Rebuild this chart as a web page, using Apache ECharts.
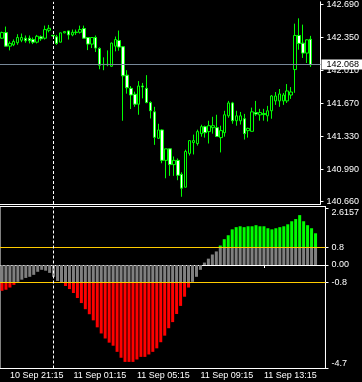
<!DOCTYPE html>
<html><head><meta charset="utf-8">
<style>html,body{margin:0;padding:0;background:#000;overflow:hidden}#c{width:362px;height:382px;}</style>
<script src="https://cdn.jsdelivr.net/npm/echarts@6/dist/echarts.min.js"></script>
</head><body><div id="c"></div>
<script>
// ---- data (M15 bars, 10 Sep 20:45 .. 11 Sep 16:30) ----
const opens = [142.342,142.400,142.260,142.274,142.295,142.321,142.342,142.342,142.328,142.301,
  142.356,142.342,142.424,142.372,142.356,142.301,142.397,142.417,142.376,142.400,
  142.403,142.441,142.349,142.281,142.349,142.236,142.068,142.068,142.052,142.260,
  142.318,142.254,141.960,141.824,141.763,141.660,141.848,141.824,141.677,141.581,
  141.308,141.394,141.080,141.199,141.036,141.080,140.936,140.803,141.152,141.264,
  141.254,141.356,141.428,141.377,141.418,141.418,141.315,141.366,141.540,141.673,
  141.489,141.489,141.510,141.387,141.380,141.574,141.550,141.564,141.540,141.592,
  141.694,141.694,141.694,141.694,141.755,142.018,142.370,142.291,142.188,142.331];
const closes = [142.400,142.260,142.288,142.308,142.349,142.349,142.315,142.315,142.301,142.362,
  142.336,142.431,142.444,142.365,142.288,142.397,142.410,142.376,142.403,142.405,
  142.431,142.342,142.281,142.349,142.240,142.062,142.072,142.072,142.291,142.328,
  142.250,141.953,141.830,141.755,141.660,141.848,141.838,141.677,141.592,141.318,
  141.394,141.080,141.199,141.036,141.080,140.926,140.793,141.172,141.284,141.284,
  141.377,141.428,141.366,141.438,141.438,141.326,141.387,141.551,141.673,141.489,
  141.540,141.540,141.356,141.410,141.581,141.558,141.574,141.553,141.592,141.745,
  141.745,141.766,141.755,141.797,141.786,142.370,142.288,142.188,142.325,142.068];
const lows = [142.335,142.255,142.216,142.260,142.274,142.301,142.295,142.288,142.281,142.288,
  142.315,142.328,142.403,142.360,142.274,142.298,142.393,142.328,142.362,142.376,
  142.390,142.340,142.219,142.240,142.199,142.021,142.011,142.052,142.045,142.206,
  142.213,141.489,141.769,141.610,141.633,141.551,141.720,141.670,141.513,141.240,
  141.300,141.050,140.895,140.920,140.920,140.875,140.704,140.800,141.130,141.141,
  141.233,141.325,141.315,141.254,141.356,141.325,141.162,141.325,141.520,141.458,
  141.438,141.450,141.295,141.315,141.380,141.540,141.490,141.490,141.482,141.510,
  141.653,141.633,141.653,141.673,141.715,141.778,142.223,142.138,142.086,142.045];
const highs = [142.410,142.462,142.308,142.329,142.383,142.390,142.370,142.370,142.349,142.376,
  142.370,142.472,142.479,142.374,142.376,142.400,142.414,142.420,142.431,142.431,
  142.472,142.472,142.352,142.352,142.370,142.247,142.144,142.216,142.298,142.359,
  142.421,142.260,142.011,141.847,141.790,141.899,141.880,141.960,141.690,141.633,
  141.458,141.400,141.200,141.200,141.120,141.100,140.957,141.190,141.290,141.346,
  141.397,141.448,141.438,141.489,141.530,141.551,141.438,141.592,141.694,141.684,
  141.592,141.580,141.560,141.418,141.625,141.694,141.612,141.612,141.643,141.755,
  141.786,141.817,141.776,141.868,141.837,142.492,142.547,142.482,142.330,142.366];
const oscValues = [-1.18,-1.13,-1.03,-0.91,-0.77,-0.67,-0.59,-0.54,-0.45,-0.31,
  -0.22,-0.26,-0.36,-0.54,-0.73,-0.79,-0.96,-1.10,-1.28,-1.51,
  -1.74,-2.02,-2.25,-2.53,-2.85,-3.13,-3.36,-3.55,-3.69,-3.97,
  -4.24,-4.43,-4.43,-4.43,-4.32,-4.20,-4.20,-4.09,-3.97,-3.81,
  -3.53,-3.23,-2.89,-2.61,-2.24,-1.87,-1.45,-1.03,-0.77,-0.54,
  -0.22,0.11,0.29,0.48,0.62,0.89,1.18,1.36,1.63,1.73,
  1.77,1.73,1.77,1.77,1.82,1.77,1.77,1.68,1.63,1.68,
  1.73,1.77,1.86,2.00,2.10,2.28,2.00,1.82,1.68,1.45];
const priceTicks = [142.690,142.350,142.010,141.670,141.330,140.990,140.660];
const oscTicks = [-4.7,-0.8,0,0.8,2.6157];
const oscTickText = {'-4.7':'-4.7','-0.8':'-0.8','0':'0.00','0.8':'0.8','2.6157':'2.6157'};
const timeLabels = ['10 Sep 21:15','11 Sep 01:15','11 Sep 05:15','11 Sep 09:15','11 Sep 13:15'];
const daySeparator = '11 Sep 00:00';
const lastPrice = 142.068;
const levels = [0.8,-0.8];

// ---- categories (15 minute bars + 2 empty slots of right shift) ----
const MON = ['Jan','Feb','Mar','Apr','May','Jun','Jul','Aug','Sep','Oct','Nov','Dec'];
const cats = [];
const start = Date.UTC(2023, 8, 10, 20, 45);
for (let i = 0; i < opens.length + 2; i++) {
  const d = new Date(start + i * 15 * 60000);
  const p = n => (n < 10 ? '0' : '') + n;
  cats.push(d.getUTCDate() + ' ' + MON[d.getUTCMonth()] + ' ' + p(d.getUTCHours()) + ':' + p(d.getUTCMinutes()));
}
const ohlc = opens.map((o, i) => [o, closes[i], lows[i], highs[i]]);
const TH = levels[0];
const grayData = oscValues.map(v => Math.max(-TH, Math.min(TH, v)));
const redData = oscValues.map(v => v < -TH ? +(v + TH).toFixed(4) : '-');
const greenData = oscValues.map(v => v > TH ? +(v - TH).toFixed(4) : '-');

const FONT = 'Liberation Sans';
const isTimeLabel = (i, v) => timeLabels.indexOf(v) >= 0;
const GOLD = '#FFCC00';

const chart = echarts.init(document.getElementById('c'), null, {renderer: 'canvas'});
chart.setOption({
  backgroundColor: '#000',
  animation: false,
  grid: [
    {left: -1.7, width: 328, top: 0, height: 204},
    {left: -1.7, width: 328, top: 206.5, height: 162, show: true, borderColor: '#fff', borderWidth: 1, backgroundColor: 'transparent'}
  ],
  xAxis: [
    {type: 'category', gridIndex: 0, data: cats, boundaryGap: true,
     axisLine: {show: true, lineStyle: {color: '#fff', width: 1}}, axisTick: {show: false}, axisLabel: {show: false}, splitLine: {show: false}},
    {type: 'category', gridIndex: 1, data: cats, boundaryGap: true,
     axisLine: {show: true, lineStyle: {color: '#fff', width: 1}},
     axisTick: {show: true, interval: isTimeLabel, alignWithLabel: true, length: 3, lineStyle: {color: '#fff'}},
     axisLabel: {show: true, interval: isTimeLabel, color: '#fff', fontFamily: FONT, fontSize: 9, align: 'left', margin: 3},
     splitLine: {show: false}}
  ],
  yAxis: [
    {type: 'value', gridIndex: 0, position: 'right', min: 140.6292, max: 142.7176, scale: true,
     axisLine: {show: true, lineStyle: {color: '#fff', width: 1}},
     axisTick: {show: true, length: 3, customValues: priceTicks, lineStyle: {color: '#fff'}},
     axisLabel: {show: true, customValues: priceTicks, color: '#fff', fontFamily: FONT, fontSize: 9, margin: 6,
                 formatter: v => v.toFixed(3)},
     splitLine: {show: false}},
    {type: 'value', gridIndex: 1, position: 'right', min: -4.7314, max: 2.6743,
     axisLine: {show: true, lineStyle: {color: '#fff', width: 1}},
     axisTick: {show: true, length: 3, customValues: oscTicks, lineStyle: {color: '#fff'}},
     axisLabel: {show: true, customValues: oscTicks, color: '#fff', fontFamily: FONT, fontSize: 9, margin: 6,
                 verticalAlignMinLabel: 'bottom', verticalAlignMaxLabel: 'top',
                 formatter: v => oscTickText[String(v)] || String(v)},
     splitLine: {show: false}}
  ],
  series: [
    {type: 'candlestick', xAxisIndex: 0, yAxisIndex: 0, data: ohlc, barWidth: 3,
     itemStyle: {color: '#000', color0: '#fff', borderColor: '#00ff00', borderColor0: '#00ff00', borderWidth: 1},
     markLine: {silent: true, symbol: 'none', animation: false,
       data: [
         {yAxis: lastPrice, lineStyle: {color: '#778899', type: 'solid', width: 1},
          label: {show: true, position: 'end', distance: 1, formatter: lastPrice.toFixed(3), color: '#000', backgroundColor: '#fff',
                  fontFamily: FONT, fontSize: 9, lineHeight: 10, padding: [0, 6, 0, 5]}},
         {xAxis: daySeparator, lineStyle: {color: '#fff', type: [3, 2], width: 1}, label: {show: false}}
       ]}},
    {type: 'bar', xAxisIndex: 1, yAxisIndex: 1, stack: 'osc', data: grayData, barWidth: 3,
     itemStyle: {color: '#808080'},
     markLine: {silent: true, symbol: 'none', animation: false,
       data: [
         {yAxis: levels[0], lineStyle: {color: GOLD, type: 'solid', width: 1}, label: {show: false}},
         {yAxis: levels[1], lineStyle: {color: GOLD, type: 'solid', width: 1}, label: {show: false}},
         {xAxis: daySeparator, lineStyle: {color: '#fff', type: [3, 2], width: 1}, label: {show: false}}
       ]}},
    {type: 'bar', xAxisIndex: 1, yAxisIndex: 1, stack: 'osc', data: redData, barWidth: 3, itemStyle: {color: '#ff0000'}},
    {type: 'bar', xAxisIndex: 1, yAxisIndex: 1, stack: 'osc', data: greenData, barWidth: 3, itemStyle: {color: '#00ff00'}}
  ]
});
</script></body></html>
